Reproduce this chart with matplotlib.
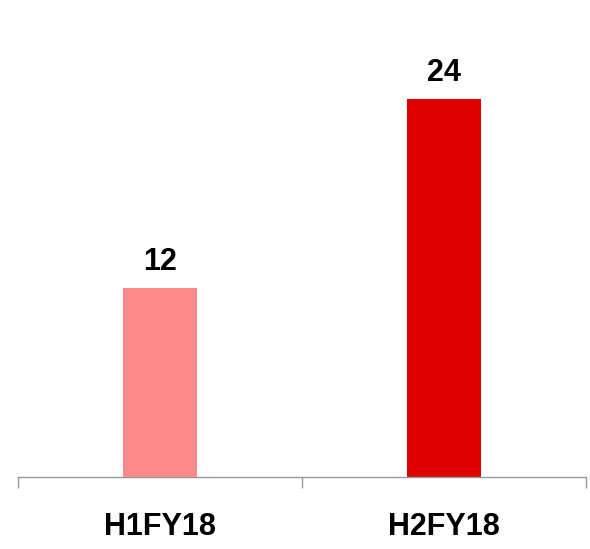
import matplotlib.pyplot as plt

categories = ["H1FY18", "H2FY18"]
values = [12, 24]
colors = ["#FF8A8A", "#DF0000"]

plt.rcParams["font.family"] = ["Liberation Sans", "DejaVu Sans"]

fig = plt.figure(figsize=(5.9, 5.49), dpi=100)
ax = fig.add_axes([18 / 590, 72 / 549, 568 / 590, 441 / 549])

x = range(len(categories))
bars = ax.bar(x, values, width=0.264, color=colors)

for bar, v in zip(bars, values):
    ax.text(bar.get_x() + bar.get_width() / 2, v + 0.7, str(v),
            ha="center", va="bottom", fontsize=22, fontweight="bold")

ax.set_xlim(-0.5, 1.5)
ax.set_ylim(0, 28)

for side in ["top", "right", "left"]:
    ax.spines[side].set_visible(False)
ax.spines["bottom"].set_color("#999999")
ax.spines["bottom"].set_linewidth(1)

ax.set_yticks([])
ax.set_xticks([-0.5, 0.5, 1.5], minor=False)
ax.set_xticklabels([])
ax.tick_params(axis="x", length=8, color="#999999", width=1)

for i, c in enumerate(categories):
    ax.text(i, -3.2, c, ha="center", va="center", fontsize=22, fontweight="bold")

fig.savefig("out.png", dpi=100)
plt.close(fig)
